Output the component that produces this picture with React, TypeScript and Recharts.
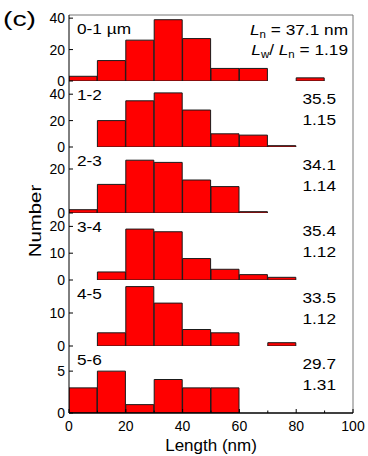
import React from "react";
import { BarChart, Bar, XAxis, YAxis, ReferenceLine } from "recharts";

const FONT = "'Liberation Sans', Arial, Helvetica, sans-serif";

// 10 nm bins, 0-100 nm
const binStarts = [0, 10, 20, 30, 40, 50, 60, 70, 80, 90];
const binWidth = 10;

const counts01 = [3, 13, 26, 39, 27, 8, 8, 0, 2, 0];
const counts12 = [0, 20, 35, 41, 28, 10, 9, 1, 0, 0];
const counts23 = [1.5, 13, 24, 23, 15, 12, 0.6, 0, 0, 0];
const counts34 = [0, 3, 19, 18, 8, 4, 2, 1, 0, 0];
const counts45 = [0, 4, 18, 13, 5, 4, 0, 1, 0, 0];
const counts56 = [3, 5, 1, 4, 3, 3, 0, 0, 0, 0];
const allCounts = [counts01, counts12, counts23, counts34, counts45, counts56];

const panelNames = ["0-1 µm", "1-2", "2-3", "3-4", "4-5", "5-6"];
const lnValues = ["37.1", "35.5", "34.1", "35.4", "33.5", "29.7"];
const pdiValues = ["1.19", "1.15", "1.14", "1.12", "1.12", "1.31"];

const yMax = [42, 50, 30, 25, 20, 8];
const yTicks = [[0, 20, 40], [0, 20, 40], [0, 20], [0, 10, 20], [0, 10], [0, 5]];
const xTicks = [0, 10, 20, 30, 40, 50, 60, 70, 80, 90, 100];
const xLabelled = [0, 20, 40, 60, 80, 100];

// panel edges in px (top of first ... bottom of last)
const EDGES = [15, 81, 147, 213, 280, 346, 413];
const PAD = 10;

function XTick({ x, y, payload, showLabel }: any) {
  const v = payload.value;
  const major = xLabelled.includes(v);
  return (
    <g>
      <line x1={x} x2={x} y1={y} y2={y - (major ? 4 : 2.5)} stroke="#000" strokeWidth={1} />
      {showLabel && major && (
        <text x={x} y={y + 8} dy="0.71em" textAnchor="middle" fontSize={14} fontFamily={FONT} fill="#000">
          {v}
        </text>
      )}
    </g>
  );
}

function YTick({ x, y, payload }: any) {
  return (
    <g>
      <line x1={x} x2={x + 4} y1={y} y2={y} stroke="#000" strokeWidth={1} />
      <text x={x - 4} y={y} dy="0.355em" textAnchor="end" fontSize={14} fontFamily={FONT} fill="#000">
        {payload.value}
      </text>
    </g>
  );
}

function Panel({ i }: { i: number }) {
  const isLast = i === 5;
  const labelH = 30;
  const h = EDGES[i + 1] - EDGES[i] + PAD + (isLast ? labelH : PAD);
  const data = binStarts.map((b, k) => ({ mid: b + binWidth / 2, n: allCounts[i][k] }));

  return (
    <div style={{ position: "absolute", left: 0, top: EDGES[i] - PAD }}>
      <BarChart
        width={368}
        height={h}
        data={data}
        margin={{ top: PAD, right: 15, bottom: isLast ? 0 : PAD, left: 0 }}
        barCategoryGap={0}
        barGap={0}
      >
        <XAxis
          dataKey="mid" type="number" domain={[0, 100]} ticks={xTicks} interval={0}
          allowDataOverflow height={isLast ? labelH : 0}
          tickSize={0} tickMargin={0} tickLine={false}
          axisLine={{ stroke: "#000", strokeWidth: 1.5 }}
          tick={<XTick showLabel={isLast} />}
        />
        <YAxis
          domain={[0, yMax[i]]} ticks={yTicks[i]} interval={0} allowDataOverflow width={69}
          tickSize={0} tickMargin={0} tickLine={false}
          axisLine={{ stroke: "#000", strokeWidth: 1 }}
          tick={<YTick />}
        />
        <ReferenceLine x={100} stroke="#777" strokeWidth={1} />
        {i === 0 && <ReferenceLine y={yMax[i]} stroke="#777" strokeWidth={1} />}
        <Bar dataKey="n" fill="#ff0000" stroke="#1a1a1a" strokeWidth={1} isAnimationActive={false} />
      </BarChart>
    </div>
  );
}

function T({ x, y, s = 1, size = 16, anchor = "start", children }: any) {
  return (
    <text
      transform={`translate(${x},${y}) scale(${s},1)`}
      fontSize={size}
      fontFamily={FONT}
      fill="#000"
      textAnchor={anchor}
    >
      {children}
    </text>
  );
}

export default function App() {
  return (
    <div style={{ position: "absolute", left: 0, top: 0, width: 368, height: 456, background: "#fff" }}>
      {allCounts.map((_, i) => (
        <Panel key={i} i={i} />
      ))}
      <svg width={368} height={456} style={{ position: "absolute", left: 0, top: 0, pointerEvents: "none" }}>
        <T x={3} y={26} s={1.35} size={21}>(c)</T>
        {panelNames.map((name, i) => (
          <T key={name} x={77} y={EDGES[i] + 19} s={1.15} size={15}>{name}</T>
        ))}
        <T x={348} y={EDGES[0] + 20} s={1.15} size={15} anchor="end">
          <tspan fontStyle="italic">L</tspan>
          <tspan fontSize={10} dy={3}>n</tspan>
          <tspan dy={-3}> = {lnValues[0]} nm</tspan>
        </T>
        <T x={348} y={EDGES[0] + 40} s={1.15} size={15} anchor="end">
          <tspan fontStyle="italic">L</tspan>
          <tspan fontSize={10} dy={3}>w</tspan>
          <tspan dy={-3}>/ </tspan>
          <tspan fontStyle="italic">L</tspan>
          <tspan fontSize={10} dy={3}>n</tspan>
          <tspan dy={-3}> = {pdiValues[0]}</tspan>
        </T>
        {lnValues.slice(1).map((v, k) => (
          <T key={"ln" + k} x={336} y={EDGES[k + 1] + 23} s={1.15} size={15} anchor="end">{v}</T>
        ))}
        {pdiValues.slice(1).map((v, k) => (
          <T key={"pdi" + k} x={336} y={EDGES[k + 1] + 44} s={1.15} size={15} anchor="end">{v}</T>
        ))}
        <text
          transform="translate(41,221) rotate(-90) scale(1.2,1)"
          fontSize={17}
          fontFamily={FONT}
          textAnchor="middle"
          fill="#000"
        >
          Number
        </text>
        <T x={211} y={451} size={17} anchor="middle">Length (nm)</T>
      </svg>
    </div>
  );
}
